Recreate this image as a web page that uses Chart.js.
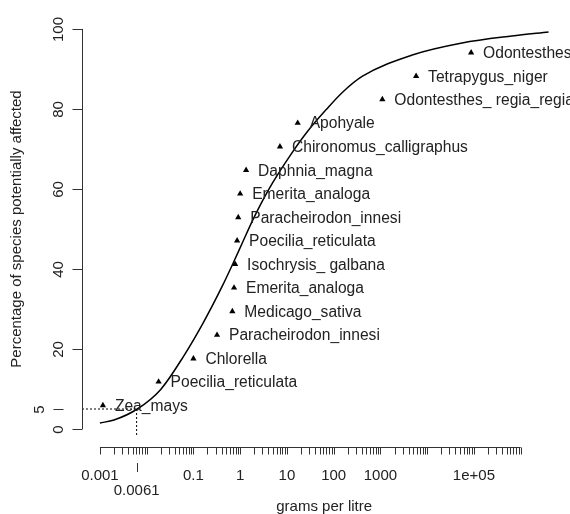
<!DOCTYPE html>
<html><head><meta charset="utf-8">
<script src="https://cdn.jsdelivr.net/npm/chart.js@4.4.1/dist/chart.umd.min.js"></script>
<style>html,body{margin:0;padding:0;background:#fff;overflow:hidden}canvas{display:block}</style>
</head><body>
<canvas id="c" width="570" height="514"></canvas>
<script>
// ---- data ----
const speciesNames = ["Zea_mays","Poecilia_reticulata","Chlorella","Paracheirodon_innesi","Medicago_sativa","Emerita_analoga","Isochrysis_ galbana","Poecilia_reticulata","Paracheirodon_innesi","Emerita_analoga","Daphnia_magna","Chironomus_calligraphus","Apohyale","Odontesthes_ regia_regia","Tetrapygus_niger","Odontesthes_bonariensis"];
const speciesConc = [0.00116, 0.018, 0.1, 0.32, 0.68, 0.74, 0.78, 0.86, 0.91, 1.0, 1.34, 7.1, 17, 1100, 5800, 87000];
const speciesPct = [5.9, 11.8, 17.6, 23.5, 29.4, 35.3, 41.2, 47.1, 52.9, 58.8, 64.7, 70.6, 76.5, 82.4, 88.2, 94.1];
const curveConc = [0.001, 0.002, 0.0063, 0.02, 0.061, 0.163, 0.414, 0.71, 1.16, 1.89, 2.67, 5.04, 11.6, 26.7, 71, 155, 414, 4800, 55600, 644000, 3940000];
const curvePct = [1.5, 2.25, 5, 9.9, 18.1, 26.6, 35.7, 41.5, 47, 52.4, 55.9, 61.7, 68.3, 74.2, 80, 84.2, 88.2, 93.5, 96.5, 98.25, 99.25];
const hc5 = 0.0061;
const hcLevel = 5;
const hc5Label = "0.0061";
const xTickValues = [0.001, 0.1, 1, 10, 100, 1000, 1e5];
const xTickLabels = ["0.001", "0.1", "1", "10", "100", "1000", "1e+05"];
const xMinorDecades = [0.001, 0.01, 0.1, 1, 10, 100, 1000, 1e4, 1e5];
const xAxisEnd = 1e6;
const yTickValues = [0, 20, 40, 60, 80, 100];
const xTitle = "grams per litre";
const yTitle = "Percentage of species potentially affected";

const X_MIN = 0.000414, X_MAX = 9.5e6, Y_MIN = -4, Y_MAX = 104;
const FONT = '15px "Liberation Sans", Arial, sans-serif';
const LABEL_FONT = '15.6px "Liberation Sans", Arial, sans-serif';

const rAxes = {
  id: 'rAxes',
  afterDraw(chart) {
    const ctx = chart.ctx, xs = chart.scales.x, ys = chart.scales.y;
    const ca = chart.chartArea;
    ctx.save();
    ctx.strokeStyle = '#333'; ctx.fillStyle = '#222'; ctx.lineWidth = 1;
    ctx.font = FONT;
    // ---- y axis ----
    const ax = Math.round(ca.left) + 0.5;
    ctx.beginPath();
    ctx.moveTo(ax, ys.getPixelForValue(yTickValues[0]));
    ctx.lineTo(ax, ys.getPixelForValue(yTickValues[yTickValues.length - 1]));
    ctx.stroke();
    yTickValues.forEach(v => {
      const py = Math.round(ys.getPixelForValue(v)) + 0.5;
      ctx.beginPath(); ctx.moveTo(ax - 10, py); ctx.lineTo(ax, py); ctx.stroke();
      ctx.save(); ctx.translate(ax - 20, py); ctx.rotate(-Math.PI / 2);
      ctx.textAlign = 'center'; ctx.textBaseline = 'alphabetic';
      ctx.fillText(String(v), 0, 0); ctx.restore();
    });
    // hc level tick (offset axis)
    {
      const py = Math.round(ys.getPixelForValue(hcLevel)) + 0.5;
      ctx.beginPath(); ctx.moveTo(ax - 29, py); ctx.lineTo(ax - 19, py); ctx.stroke();
      ctx.save(); ctx.translate(ax - 39, py); ctx.rotate(-Math.PI / 2);
      ctx.textAlign = 'center'; ctx.textBaseline = 'alphabetic';
      ctx.fillText(String(hcLevel), 0, 0); ctx.restore();
    }
    // ---- x axis ----
    const ay = 447.5;
    ctx.beginPath();
    ctx.moveTo(xs.getPixelForValue(xMinorDecades[0]), ay);
    ctx.lineTo(xs.getPixelForValue(xAxisEnd), ay);
    ctx.stroke();
    const minor = [];
    xMinorDecades.forEach(d => { for (let m = 1; m <= 9; m++) minor.push(d * m); });
    minor.push(xAxisEnd);
    minor.forEach(v => {
      const px = Math.round(xs.getPixelForValue(v)) + 0.5;
      ctx.beginPath(); ctx.moveTo(px, ay); ctx.lineTo(px, ay + 7); ctx.stroke();
    });
    ctx.textAlign = 'center'; ctx.textBaseline = 'alphabetic';
    xTickValues.forEach((v, i) => {
      ctx.fillText(xTickLabels[i], xs.getPixelForValue(v), 480);
    });
    // hc5 tick (offset axis)
    {
      const px = Math.round(xs.getPixelForValue(hc5)) + 0.5;
      ctx.beginPath(); ctx.moveTo(px, 463); ctx.lineTo(px, 472); ctx.stroke();
      ctx.fillText(hc5Label, xs.getPixelForValue(hc5), 495);
    }
    // ---- titles ----
    ctx.fillText(xTitle, (ca.left + ca.right) / 2, 511);
    ctx.save(); ctx.translate(21, (ys.getPixelForValue(0) + ys.getPixelForValue(100)) / 2);
    ctx.rotate(-Math.PI / 2); ctx.fillText(yTitle, 0, 0); ctx.restore();
    // ---- point labels ----
    ctx.font = LABEL_FONT;
    ctx.textAlign = 'left'; ctx.textBaseline = 'middle';
    speciesNames.forEach((n, i) => {
      ctx.fillText(n, xs.getPixelForValue(speciesConc[i]) + 12, ys.getPixelForValue(speciesPct[i]) + 1);
    });
    ctx.restore();
  }
};

new Chart(document.getElementById('c'), {
  type: 'scatter',
  data: {
    datasets: [
      {
        type: 'line', label: 'fit',
        data: curveConc.map((x, i) => ({ x, y: curvePct[i] })),
        borderColor: '#000', borderWidth: 1.5, pointRadius: 0,
        cubicInterpolationMode: 'monotone', fill: false, clip: false
      },
      {
        type: 'line', label: 'hc5h',
        data: [{ x: X_MIN, y: hcLevel }, { x: hc5, y: hcLevel }],
        borderColor: '#000', borderWidth: 1, borderDash: [2, 2], pointRadius: 0, fill: false
      },
      {
        type: 'line', label: 'hc5v',
        data: [{ x: hc5, y: hcLevel }, { x: hc5, y: -1.5 }],
        borderColor: '#000', borderWidth: 1, borderDash: [2, 2], pointRadius: 0, fill: false
      },
      {
        label: 'species',
        data: speciesConc.map((x, i) => ({ x, y: speciesPct[i] })),
        pointStyle: 'triangle', pointRadius: 3.6, pointHoverRadius: 3.6,
        backgroundColor: '#000', borderColor: '#000', borderWidth: 0, showLine: false
      }
    ]
  },
  options: {
    responsive: false, animation: false, devicePixelRatio: 1,
    layout: { padding: { left: 82, right: 2, top: 13, bottom: 69 } },
    plugins: { legend: { display: false }, tooltip: { enabled: false } },
    events: [],
    scales: {
      x: { type: 'logarithmic', min: X_MIN, max: X_MAX, display: false },
      y: { type: 'linear', min: Y_MIN, max: Y_MAX, display: false }
    }
  },
  plugins: [rAxes]
});
</script>
</body></html>
